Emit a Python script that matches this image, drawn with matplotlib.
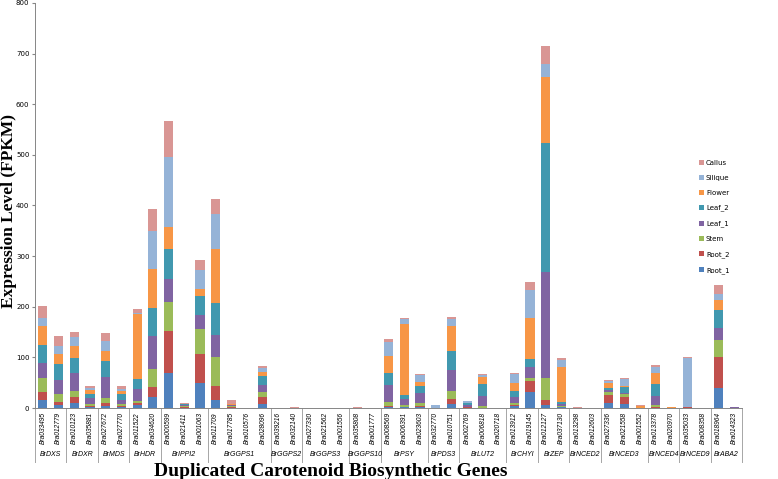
import matplotlib.pyplot as plt
import numpy as np

genes = ['Bra033495', 'Bra012779', 'Bra010123', 'Bra035881', 'Bra027672', 'Bra027770',
         'Bra011522', 'Bra034620', 'Bra000599', 'Bra021411', 'Bra001063',
         'Bra011709', 'Bra017785', 'Bra010576', 'Bra028096', 'Bra039216', 'Bra032140',
         'Bra027330', 'Bra021562', 'Bra001556', 'Bra035808', 'Bra001777',
         'Bra008569', 'Bra006391', 'Bra023603', 'Bra032770', 'Bra010751',
         'Bra002769', 'Bra006818', 'Bra020718', 'Bra013912', 'Bra019145',
         'Bra012127', 'Bra037130', 'Bra013298', 'Bra012603', 'Bra027336', 'Bra021558',
         'Bra001552', 'Bra013378', 'Bra020970', 'Bra035033', 'Bra008358',
         'Bra018964', 'Bra014323']
groups = ['BrDXS', 'BrDXR', 'BrMDS', 'BrHDR', 'BrIPPI2', 'BrGGPS1', 'BrGGPS2', 'BrGGPS3',
          'BrGGPS10', 'BrPSY', 'BrPDS3', 'BrLUT2', 'BrCHYI', 'BrZEP', 'BrNCED2', 'BrNCED3',
          'BrNCED4', 'BrNCED9', 'BrABA2']
group_sizes = [2, 2, 2, 2, 3, 4, 2, 3, 2, 3, 2, 3, 2, 2, 2, 3, 2, 2, 2]

tissues = ['Root_1', 'Root_2', 'Stem', 'Leaf_1', 'Leaf_2', 'Flower', 'Silique', 'Callus']
colors = ['#4F81BD', '#C0504D', '#9BBB59', '#8064A2', '#4198AF', '#F79646', '#95B3D7', '#D99694']

root_1 = [16, 6, 11, 2, 5, 3, 6, 22, 70, 1, 50, 16, 1, 0, 9, 0, 0, 0, 0, 0, 0, 0,
          2, 2, 3, 0, 8, 1, 0.5, 0, 4, 32, 7, 2, 0, 0, 10, 8, 0, 1, 0, 1, 0, 40, 0.5]
root_2 = [16, 7, 11, 2, 5, 2, 4, 19, 82, 2, 56, 27, 1, 0.5, 13, 0.5, 1, 0.5, 0, 0.3, 1, 0.5,
          2, 1, 2, 0, 9, 0.5, 0.5, 0, 3, 22, 9, 1, 1, 0.5, 16, 14, 1, 1.5, 0, 2, 0, 61, 0.5]
stem = [28, 14, 12, 5, 10, 4, 4, 36, 57, 1, 51, 58, 3, 0, 10, 0, 0, 0, 0, 0, 0, 0,
        8, 3, 6, 0, 17, 1.5, 3, 0, 4, 5, 43, 2, 0, 0, 6, 6, 0, 3.5, 0, 0, 0, 33, 0]
leaf_1 = [30, 28, 36, 10, 42, 7, 24, 65, 46, 3, 27, 43, 1, 0, 13, 0, 0, 0, 0, 0, 0, 0,
          33, 11, 19, 0, 42, 4, 20, 0, 11, 22, 210, 4, 0, 0, 4, 2, 0, 18, 0, 0, 0, 24, 0.5]
leaf_2 = [34, 32, 28, 9, 31, 11, 20, 55, 60, 0.5, 38, 63, 1, 0, 19, 0, 0, 0, 0, 0, 0, 0,
          25, 9, 14, 1, 36, 2.5, 23, 0, 12, 15, 255, 3, 0, 0, 4, 11, 0, 23, 0, 0, 0, 35, 0.5]
flower = [39, 20, 24, 8, 20, 6, 128, 77, 43, 0.5, 14, 108, 1, 0, 8, 0, 0, 0, 0, 0, 0, 0,
          33, 140, 7, 0, 50, 1.5, 15, 0, 15, 81, 130, 70, 0, 0, 9, 3, 3, 23, 2.5, 0, 0, 20, 0]
silique = [14, 15, 19, 4, 20, 4, 1, 76, 137, 0.5, 36, 69, 1, 0, 8, 0, 0, 0, 0, 0, 0, 0,
           28, 10, 14, 6, 13, 2.5, 3, 0, 18, 56, 26, 13, 0, 0, 4, 14, 0, 12, 0, 96, 0.5, 12, 0]
callus = [24, 21, 9, 3, 16, 6, 8, 44, 72, 2, 20, 28, 7, 0.5, 3, 0.5, 0.5, 0.5, 0, 0.3, 0.5, 0.5,
          5, 2, 3, 0, 5, 1, 3, 0, 3, 15, 35, 3, 1, 0.5, 2, 0.5, 2, 4, 0.5, 1, 0, 18, 0.5]

series = [root_1, root_2, stem, leaf_1, leaf_2, flower, silique, callus]

fig = plt.figure(figsize=(7.78, 4.79), dpi=100)
ax = fig.add_axes([0.045, 0.148, 0.909, 0.846])

x = np.arange(len(genes))
bottom = np.zeros(len(genes))
handles = []
for name, vals, c in zip(tissues, series, colors):
    b = ax.bar(x, vals, 0.58, bottom=bottom, color=c, label=name, linewidth=0)
    handles.append(b)
    bottom += np.array(vals)

ax.set_xlim(-0.5, len(genes) - 0.5)
ax.set_ylim(0, 800)
ax.set_yticks(range(0, 801, 100))
ax.tick_params(axis='y', labelsize=5, length=2, color='#868686', pad=2)
ax.set_xticks(x)
ax.set_xticklabels(genes, rotation=90, fontsize=4.8, style='italic', family='Liberation Sans')
ax.tick_params(axis='x', length=0, pad=3)
for s in ['top', 'right']:
    ax.spines[s].set_visible(False)
for s in ['left', 'bottom']:
    ax.spines[s].set_color('#868686')
    ax.spines[s].set_linewidth(0.7)

# group separators and labels under the gene ids
trans = ax.get_xaxis_transform()
edges = np.concatenate([[0], np.cumsum(group_sizes)]) - 0.5
for e in edges:
    ax.plot([e, e], [0, -0.133], transform=trans, color='#a6a6a6', lw=0.7, clip_on=False)
for g, lo, hi in zip(groups, edges[:-1], edges[1:]):
    ax.text((lo + hi) / 2, -0.115, g, transform=trans, ha='center', va='center',
            fontsize=5, style='italic', family='Liberation Sans')

fig.text(9 / 778, 1 - 211 / 479, 'Expression Level (FPKM)', rotation=90,
         ha='center', va='center', fontsize=12.5, fontweight='bold', family='Liberation Serif')
fig.text(331 / 778, 1 - 472 / 479, 'Duplicated Carotenoid Biosynthetic Genes',
         ha='center', va='center', fontsize=14, fontweight='bold', family='Liberation Serif')

leg = ax.legend(handles[::-1], tissues[::-1], loc='upper left', bbox_to_anchor=(0.935, 0.62),
                frameon=False, fontsize=5, handlelength=0.7, handleheight=0.7,
                labelspacing=1.3, handletextpad=0.3, borderaxespad=0)

fig.savefig('out.png', dpi=100)
